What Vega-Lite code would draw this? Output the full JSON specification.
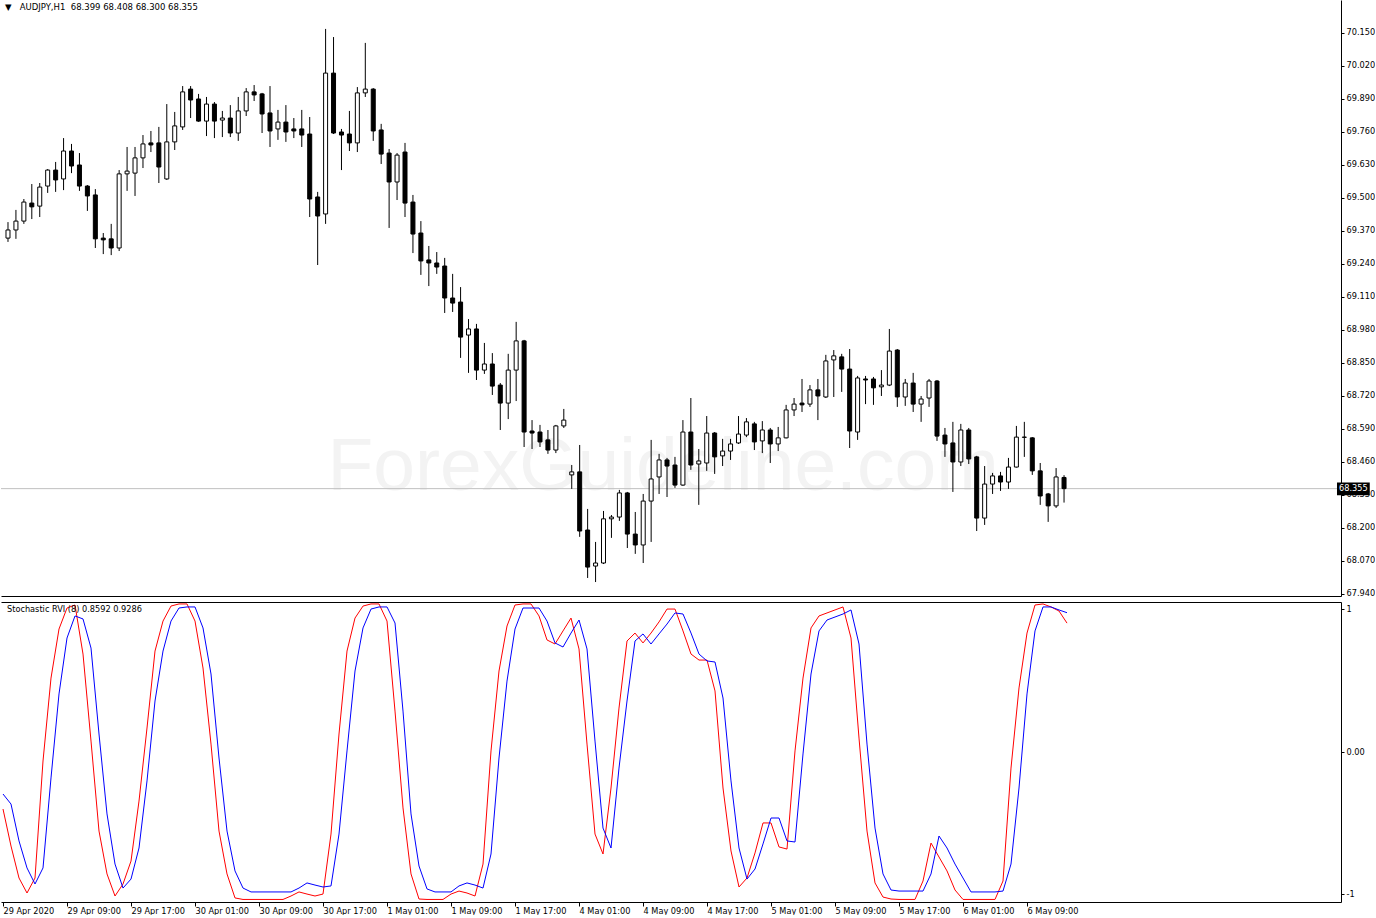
{
  "$schema": "https://vega.github.io/schema/vega-lite/v6.json",
  "background": "white",
  "padding": {"left": 0, "top": 0, "right": 0, "bottom": 0},
  "spacing": 3,
  "config": {
    "view": {"stroke": null},
    "font": "DejaVu Sans",
    "axis": {"labelFont": "DejaVu Sans", "labelFontSize": 8.2, "labelColor": "black", "domainColor": "black", "tickColor": "black", "grid": false, "labelOverlap": false}
  },
  "datasets": {
    "bars": [
      {"i":0,"open":69.342,"high":69.405,"low":69.327,"close":69.374},
      {"i":1,"open":69.374,"high":69.453,"low":69.339,"close":69.409},
      {"i":2,"open":69.409,"high":69.496,"low":69.398,"close":69.484},
      {"i":3,"open":69.480,"high":69.555,"low":69.417,"close":69.465},
      {"i":4,"open":69.468,"high":69.559,"low":69.425,"close":69.543},
      {"i":5,"open":69.547,"high":69.614,"low":69.520,"close":69.610},
      {"i":6,"open":69.610,"high":69.642,"low":69.524,"close":69.571},
      {"i":7,"open":69.575,"high":69.736,"low":69.531,"close":69.685},
      {"i":8,"open":69.685,"high":69.713,"low":69.598,"close":69.626},
      {"i":9,"open":69.630,"high":69.677,"low":69.528,"close":69.547},
      {"i":10,"open":69.547,"high":69.551,"low":69.449,"close":69.508},
      {"i":11,"open":69.512,"high":69.535,"low":69.303,"close":69.339},
      {"i":12,"open":69.342,"high":69.362,"low":69.279,"close":69.335},
      {"i":13,"open":69.339,"high":69.398,"low":69.275,"close":69.303},
      {"i":14,"open":69.303,"high":69.610,"low":69.291,"close":69.595},
      {"i":15,"open":69.595,"high":69.701,"low":69.528,"close":69.606},
      {"i":16,"open":69.598,"high":69.701,"low":69.508,"close":69.658},
      {"i":17,"open":69.658,"high":69.748,"low":69.618,"close":69.713},
      {"i":18,"open":69.717,"high":69.764,"low":69.681,"close":69.709},
      {"i":19,"open":69.717,"high":69.780,"low":69.559,"close":69.622},
      {"i":20,"open":69.575,"high":69.870,"low":69.571,"close":69.721},
      {"i":21,"open":69.721,"high":69.839,"low":69.689,"close":69.784},
      {"i":22,"open":69.780,"high":69.941,"low":69.768,"close":69.918},
      {"i":23,"open":69.929,"high":69.941,"low":69.815,"close":69.886},
      {"i":24,"open":69.890,"high":69.910,"low":69.800,"close":69.803},
      {"i":25,"open":69.803,"high":69.898,"low":69.744,"close":69.870},
      {"i":26,"open":69.870,"high":69.878,"low":69.736,"close":69.803},
      {"i":27,"open":69.807,"high":69.843,"low":69.740,"close":69.815},
      {"i":28,"open":69.815,"high":69.866,"low":69.740,"close":69.756},
      {"i":29,"open":69.756,"high":69.898,"low":69.725,"close":69.843},
      {"i":30,"open":69.843,"high":69.933,"low":69.823,"close":69.918},
      {"i":31,"open":69.918,"high":69.945,"low":69.882,"close":69.906},
      {"i":32,"open":69.910,"high":69.914,"low":69.756,"close":69.831},
      {"i":33,"open":69.835,"high":69.941,"low":69.701,"close":69.764},
      {"i":34,"open":69.772,"high":69.847,"low":69.729,"close":69.799},
      {"i":35,"open":69.799,"high":69.866,"low":69.721,"close":69.760},
      {"i":36,"open":69.772,"high":69.815,"low":69.736,"close":69.764},
      {"i":37,"open":69.772,"high":69.847,"low":69.701,"close":69.748},
      {"i":38,"open":69.752,"high":69.819,"low":69.425,"close":69.496},
      {"i":39,"open":69.504,"high":69.524,"low":69.236,"close":69.429},
      {"i":40,"open":69.437,"high":70.166,"low":69.398,"close":69.992},
      {"i":41,"open":69.992,"high":70.134,"low":69.752,"close":69.756},
      {"i":42,"open":69.760,"high":69.772,"low":69.610,"close":69.748},
      {"i":43,"open":69.752,"high":69.843,"low":69.685,"close":69.717},
      {"i":44,"open":69.717,"high":69.937,"low":69.681,"close":69.914},
      {"i":45,"open":69.914,"high":70.111,"low":69.898,"close":69.929},
      {"i":46,"open":69.929,"high":69.933,"low":69.725,"close":69.764},
      {"i":47,"open":69.768,"high":69.792,"low":69.634,"close":69.673},
      {"i":48,"open":69.677,"high":69.693,"low":69.382,"close":69.563},
      {"i":49,"open":69.563,"high":69.677,"low":69.492,"close":69.669},
      {"i":50,"open":69.681,"high":69.717,"low":69.425,"close":69.480},
      {"i":51,"open":69.484,"high":69.512,"low":69.283,"close":69.358},
      {"i":52,"open":69.362,"high":69.409,"low":69.197,"close":69.252},
      {"i":53,"open":69.256,"high":69.311,"low":69.153,"close":69.244},
      {"i":54,"open":69.244,"high":69.287,"low":69.201,"close":69.228},
      {"i":55,"open":69.232,"high":69.264,"low":69.047,"close":69.106},
      {"i":56,"open":69.106,"high":69.201,"low":69.051,"close":69.086},
      {"i":57,"open":69.090,"high":69.149,"low":68.870,"close":68.952},
      {"i":58,"open":68.960,"high":69.023,"low":68.811,"close":68.984},
      {"i":59,"open":68.984,"high":69.004,"low":68.783,"close":68.822},
      {"i":60,"open":68.822,"high":68.929,"low":68.807,"close":68.846},
      {"i":61,"open":68.846,"high":68.889,"low":68.724,"close":68.759},
      {"i":62,"open":68.763,"high":68.771,"low":68.586,"close":68.692},
      {"i":63,"open":68.692,"high":68.886,"low":68.629,"close":68.822},
      {"i":64,"open":68.822,"high":69.012,"low":68.700,"close":68.937},
      {"i":65,"open":68.937,"high":68.941,"low":68.519,"close":68.578},
      {"i":66,"open":68.582,"high":68.625,"low":68.511,"close":68.574},
      {"i":67,"open":68.578,"high":68.606,"low":68.519,"close":68.539},
      {"i":68,"open":68.547,"high":68.586,"low":68.492,"close":68.507},
      {"i":69,"open":68.507,"high":68.606,"low":68.495,"close":68.602},
      {"i":70,"open":68.602,"high":68.669,"low":68.594,"close":68.625},
      {"i":71,"open":68.409,"high":68.448,"low":68.354,"close":68.421},
      {"i":72,"open":68.421,"high":68.527,"low":68.165,"close":68.188},
      {"i":73,"open":68.192,"high":68.275,"low":68.003,"close":68.046},
      {"i":74,"open":68.050,"high":68.145,"low":67.987,"close":68.062},
      {"i":75,"open":68.062,"high":68.267,"low":68.058,"close":68.236},
      {"i":76,"open":68.236,"high":68.251,"low":68.161,"close":68.243},
      {"i":77,"open":68.243,"high":68.350,"low":68.228,"close":68.338},
      {"i":78,"open":68.338,"high":68.342,"low":68.121,"close":68.176},
      {"i":79,"open":68.176,"high":68.263,"low":68.098,"close":68.133},
      {"i":80,"open":68.133,"high":68.334,"low":68.062,"close":68.306},
      {"i":81,"open":68.306,"high":68.547,"low":68.145,"close":68.393},
      {"i":82,"open":68.401,"high":68.492,"low":68.334,"close":68.468},
      {"i":83,"open":68.468,"high":68.476,"low":68.322,"close":68.444},
      {"i":84,"open":68.448,"high":68.480,"low":68.358,"close":68.369},
      {"i":85,"open":68.369,"high":68.625,"low":68.366,"close":68.578},
      {"i":86,"open":68.578,"high":68.712,"low":68.429,"close":68.448},
      {"i":87,"open":68.452,"high":68.511,"low":68.291,"close":68.464},
      {"i":88,"open":68.456,"high":68.641,"low":68.425,"close":68.574},
      {"i":89,"open":68.574,"high":68.578,"low":68.413,"close":68.480},
      {"i":90,"open":68.484,"high":68.551,"low":68.444,"close":68.503},
      {"i":91,"open":68.503,"high":68.551,"low":68.468,"close":68.531},
      {"i":92,"open":68.535,"high":68.641,"low":68.531,"close":68.570},
      {"i":93,"open":68.566,"high":68.633,"low":68.558,"close":68.618},
      {"i":94,"open":68.610,"high":68.618,"low":68.507,"close":68.539},
      {"i":95,"open":68.543,"high":68.621,"low":68.495,"close":68.586},
      {"i":96,"open":68.586,"high":68.594,"low":68.456,"close":68.531},
      {"i":97,"open":68.531,"high":68.598,"low":68.503,"close":68.555},
      {"i":98,"open":68.555,"high":68.685,"low":68.553,"close":68.665},
      {"i":99,"open":68.665,"high":68.712,"low":68.641,"close":68.688},
      {"i":100,"open":68.692,"high":68.787,"low":68.657,"close":68.685},
      {"i":101,"open":68.688,"high":68.763,"low":68.677,"close":68.744},
      {"i":102,"open":68.744,"high":68.787,"low":68.625,"close":68.720},
      {"i":103,"open":68.716,"high":68.882,"low":68.712,"close":68.858},
      {"i":104,"open":68.862,"high":68.901,"low":68.716,"close":68.878},
      {"i":105,"open":68.874,"high":68.886,"low":68.736,"close":68.826},
      {"i":106,"open":68.826,"high":68.905,"low":68.515,"close":68.582},
      {"i":107,"open":68.578,"high":68.799,"low":68.547,"close":68.791},
      {"i":108,"open":68.787,"high":68.799,"low":68.688,"close":68.783},
      {"i":109,"open":68.787,"high":68.795,"low":68.685,"close":68.752},
      {"i":110,"open":68.756,"high":68.822,"low":68.720,"close":68.763},
      {"i":111,"open":68.763,"high":68.984,"low":68.759,"close":68.897},
      {"i":112,"open":68.901,"high":68.905,"low":68.677,"close":68.716},
      {"i":113,"open":68.716,"high":68.787,"low":68.681,"close":68.771},
      {"i":114,"open":68.771,"high":68.811,"low":68.657,"close":68.688},
      {"i":115,"open":68.688,"high":68.720,"low":68.618,"close":68.708},
      {"i":116,"open":68.712,"high":68.787,"low":68.677,"close":68.779},
      {"i":117,"open":68.779,"high":68.783,"low":68.543,"close":68.562},
      {"i":118,"open":68.566,"high":68.594,"low":68.480,"close":68.531},
      {"i":119,"open":68.535,"high":68.618,"low":68.342,"close":68.460},
      {"i":120,"open":68.460,"high":68.610,"low":68.444,"close":68.586},
      {"i":121,"open":68.586,"high":68.594,"low":68.452,"close":68.472},
      {"i":122,"open":68.480,"high":68.484,"low":68.188,"close":68.239},
      {"i":123,"open":68.239,"high":68.444,"low":68.212,"close":68.373},
      {"i":124,"open":68.373,"high":68.417,"low":68.334,"close":68.405},
      {"i":125,"open":68.405,"high":68.421,"low":68.346,"close":68.381},
      {"i":126,"open":68.381,"high":68.476,"low":68.354,"close":68.440},
      {"i":127,"open":68.440,"high":68.602,"low":68.438,"close":68.558},
      {"i":128,"open":68.557,"high":68.618,"low":68.480,"close":68.558},
      {"i":129,"open":68.555,"high":68.558,"low":68.409,"close":68.425},
      {"i":130,"open":68.425,"high":68.456,"low":68.291,"close":68.326},
      {"i":131,"open":68.334,"high":68.338,"low":68.224,"close":68.287},
      {"i":132,"open":68.287,"high":68.436,"low":68.279,"close":68.401},
      {"i":133,"open":68.399,"high":68.408,"low":68.300,"close":68.355}
    ],
    "stoch": [
      {"i":0,"main":-0.380,"signal":-0.280},{"i":1,"main":-0.627,"signal":-0.347},{"i":2,"main":-0.840,"signal":-0.593},{"i":3,"main":-0.940,"signal":-0.773},{"i":4,"main":-0.840,"signal":-0.880},
      {"i":5,"main":-0.060,"signal":-0.773},{"i":6,"main":0.493,"signal":-0.173},{"i":7,"main":0.820,"signal":0.387},{"i":8,"main":0.960,"signal":0.760},{"i":9,"main":0.980,"signal":0.907},
      {"i":10,"main":0.653,"signal":0.887},{"i":11,"main":0.073,"signal":0.693},{"i":12,"main":-0.527,"signal":0.120},{"i":13,"main":-0.813,"signal":-0.413},{"i":14,"main":-0.960,"signal":-0.747},
      {"i":15,"main":-0.880,"signal":-0.907},{"i":16,"main":-0.727,"signal":-0.847},{"i":17,"main":-0.327,"signal":-0.640},{"i":18,"main":0.160,"signal":-0.193},{"i":19,"main":0.673,"signal":0.340},
      {"i":20,"main":0.873,"signal":0.673},{"i":21,"main":0.973,"signal":0.873},{"i":22,"main":0.987,"signal":0.960},{"i":23,"main":0.987,"signal":0.967},{"i":24,"main":0.873,"signal":0.967},
      {"i":25,"main":0.560,"signal":0.827},{"i":26,"main":0.053,"signal":0.520},{"i":27,"main":-0.527,"signal":-0.040},{"i":28,"main":-0.813,"signal":-0.527},{"i":29,"main":-0.973,"signal":-0.793},
      {"i":30,"main":-0.983,"signal":-0.907},{"i":31,"main":-0.983,"signal":-0.933},{"i":32,"main":-0.983,"signal":-0.933},{"i":33,"main":-0.983,"signal":-0.933},{"i":34,"main":-0.983,"signal":-0.933},
      {"i":35,"main":-0.983,"signal":-0.933},{"i":36,"main":-0.960,"signal":-0.933},{"i":37,"main":-0.933,"signal":-0.907},{"i":38,"main":-0.947,"signal":-0.873},{"i":39,"main":-0.960,"signal":-0.887},
      {"i":40,"main":-0.947,"signal":-0.900},{"i":41,"main":-0.547,"signal":-0.893},{"i":42,"main":0.120,"signal":-0.547},{"i":43,"main":0.673,"signal":0.007},{"i":44,"main":0.893,"signal":0.540},
      {"i":45,"main":0.973,"signal":0.827},{"i":46,"main":0.987,"signal":0.953},{"i":47,"main":0.987,"signal":0.967},{"i":48,"main":0.873,"signal":0.967},{"i":49,"main":0.273,"signal":0.860},
      {"i":50,"main":-0.373,"signal":0.273},{"i":51,"main":-0.813,"signal":-0.413},{"i":52,"main":-0.980,"signal":-0.760},{"i":53,"main":-0.983,"signal":-0.913},{"i":54,"main":-0.983,"signal":-0.933},
      {"i":55,"main":-0.983,"signal":-0.933},{"i":56,"main":-0.947,"signal":-0.933},{"i":57,"main":-0.927,"signal":-0.893},{"i":58,"main":-0.940,"signal":-0.873},{"i":59,"main":-0.960,"signal":-0.887},
      {"i":60,"main":-0.747,"signal":-0.907},{"i":61,"main":0.007,"signal":-0.680},{"i":62,"main":0.540,"signal":-0.040},{"i":63,"main":0.840,"signal":0.473},{"i":64,"main":0.980,"signal":0.820},
      {"i":65,"main":0.987,"signal":0.960},{"i":66,"main":0.987,"signal":0.960},{"i":67,"main":0.907,"signal":0.960},{"i":68,"main":0.747,"signal":0.873},{"i":69,"main":0.720,"signal":0.727},
      {"i":70,"main":0.807,"signal":0.700},{"i":71,"main":0.893,"signal":0.793},{"i":72,"main":0.687,"signal":0.880},{"i":73,"main":0.053,"signal":0.687},{"i":74,"main":-0.547,"signal":0.073},
      {"i":75,"main":-0.680,"signal":-0.507},{"i":76,"main":-0.240,"signal":-0.640},{"i":77,"main":0.293,"signal":-0.107},{"i":78,"main":0.740,"signal":0.340},{"i":79,"main":0.793,"signal":0.740},
      {"i":80,"main":0.727,"signal":0.787},{"i":81,"main":0.793,"signal":0.720},{"i":82,"main":0.867,"signal":0.787},{"i":83,"main":0.953,"signal":0.853},{"i":84,"main":0.953,"signal":0.927},
      {"i":85,"main":0.807,"signal":0.920},{"i":86,"main":0.653,"signal":0.793},{"i":87,"main":0.613,"signal":0.653},{"i":88,"main":0.613,"signal":0.607},{"i":89,"main":0.407,"signal":0.600},
      {"i":90,"main":-0.240,"signal":0.360},{"i":91,"main":-0.660,"signal":-0.193},{"i":92,"main":-0.900,"signal":-0.640},{"i":93,"main":-0.840,"signal":-0.847},{"i":94,"main":-0.673,"signal":-0.780},
      {"i":95,"main":-0.473,"signal":-0.613},{"i":96,"main":-0.473,"signal":-0.440},{"i":97,"main":-0.633,"signal":-0.440},{"i":98,"main":-0.647,"signal":-0.593},{"i":99,"main":0.007,"signal":-0.600},
      {"i":100,"main":0.493,"signal":-0.013},{"i":101,"main":0.827,"signal":0.520},{"i":102,"main":0.907,"signal":0.807},{"i":103,"main":0.927,"signal":0.880},{"i":104,"main":0.947,"signal":0.900},
      {"i":105,"main":0.967,"signal":0.920},{"i":106,"main":0.760,"signal":0.947},{"i":107,"main":0.093,"signal":0.720},{"i":108,"main":-0.527,"signal":0.053},{"i":109,"main":-0.873,"signal":-0.507},
      {"i":110,"main":-0.967,"signal":-0.813},{"i":111,"main":-0.980,"signal":-0.920},{"i":112,"main":-0.983,"signal":-0.927},{"i":113,"main":-0.983,"signal":-0.927},{"i":114,"main":-0.983,"signal":-0.927},
      {"i":115,"main":-0.860,"signal":-0.927},{"i":116,"main":-0.607,"signal":-0.813},{"i":117,"main":-0.700,"signal":-0.560},{"i":118,"main":-0.793,"signal":-0.640},{"i":119,"main":-0.920,"signal":-0.747},
      {"i":120,"main":-0.983,"signal":-0.840},{"i":121,"main":-0.983,"signal":-0.933},{"i":122,"main":-0.983,"signal":-0.933},{"i":123,"main":-0.983,"signal":-0.933},{"i":124,"main":-0.983,"signal":-0.933},
      {"i":125,"main":-0.860,"signal":-0.927},{"i":126,"main":-0.107,"signal":-0.747},{"i":127,"main":0.427,"signal":-0.240},{"i":128,"main":0.793,"signal":0.387},{"i":129,"main":0.980,"signal":0.807},
      {"i":130,"main":0.987,"signal":0.967},{"i":131,"main":0.967,"signal":0.967},{"i":132,"main":0.940,"signal":0.947},{"i":133,"main":0.8592,"signal":0.9286}
    ]
  },
  "vconcat": [
    {
      "width": 1340,
      "height": 596,
      "title": {"text": "▼\u00a0\u00a0\u00a0AUDJPY,H1\u00a0\u00a068.399 68.408 68.300 68.355", "anchor": "start", "frame": "group", "offset": -11, "dx": 4, "font": "DejaVu Sans", "fontSize": 8.5, "fontWeight": "normal", "color": "black"},
      "data": {"name": "bars"},
      "layer": [
        {
          "data": {"values": [{}]},
          "mark": {"type": "text", "font": "Liberation Sans", "fontSize": 75, "color": "#f3f3f3", "align": "center", "baseline": "alphabetic"},
          "encoding": {
            "x": {"datum": 82.5, "type": "quantitative", "scale": {"domain": [-0.25, 167.25], "nice": false, "zero": false}},
            "y": {"datum": 68.35, "type": "quantitative", "scale": {"domain": [67.932, 70.28], "nice": false, "zero": false}},
            "text": {"value": "ForexGuideline.com"}
          }
        },
        {
          "data": {"values": [{}]},
          "mark": {"type": "rule", "color": "#c0c0c0", "strokeWidth": 1},
          "encoding": {"y": {"datum": 68.355, "type": "quantitative"}}
        },
        {
          "mark": {"type": "rule", "color": "black", "strokeWidth": 1},
          "encoding": {
            "x": {"field": "i", "type": "quantitative", "axis": {"orient": "bottom", "labels": false, "ticks": false, "domain": true, "title": null}},
            "y": {"field": "low", "type": "quantitative", "axis": {"orient": "right", "title": null, "values": [67.94, 68.07, 68.2, 68.33, 68.46, 68.59, 68.72, 68.85, 68.98, 69.11, 69.24, 69.37, 69.5, 69.63, 69.76, 69.89, 70.02, 70.15], "tickCount": 60, "format": ".3f", "tickSize": 3, "labelPadding": 2, "labelOverlap": false}},
            "y2": {"field": "high"}
          }
        },
        {
          "mark": {"type": "bar", "size": 4, "stroke": "black", "strokeWidth": 1},
          "encoding": {
            "x": {"field": "i", "type": "quantitative"},
            "y": {"field": "open", "type": "quantitative"},
            "y2": {"field": "close"},
            "fill": {"condition": {"test": "datum.close > datum.open", "value": "white"}, "value": "black"}
          }
        },
        {
          "data": {"values": [{}]},
          "mark": {"type": "rect", "color": "black"},
          "encoding": {
            "x": {"datum": 167.375, "type": "quantitative"}, "x2": {"datum": 171.5},
            "y": {"datum": 68.379, "type": "quantitative"}, "y2": {"datum": 68.329}
          }
        },
        {
          "data": {"values": [{}]},
          "mark": {"type": "text", "color": "white", "font": "DejaVu Sans", "fontSize": 8.2, "align": "left", "baseline": "middle", "dx": 2},
          "encoding": {
            "x": {"datum": 167.375, "type": "quantitative"},
            "y": {"datum": 68.355, "type": "quantitative"},
            "text": {"value": "68.355"}
          }
        }
      ]
    },
    {
      "width": 1340,
      "height": 300,
      "title": {"text": "Stochastic RVI (8) 0.8592 0.9286", "anchor": "start", "frame": "group", "offset": -12, "dx": 6, "font": "DejaVu Sans", "fontSize": 8.2, "fontWeight": "normal", "color": "black"},
      "data": {"name": "stoch"},
      "resolve": {"axis": {"x": "independent"}},
      "layer": [
        {
          "mark": {"type": "line", "color": "#ff0000", "strokeWidth": 1},
          "encoding": {
            "x": {"field": "i", "type": "quantitative", "scale": {"domain": [-0.25, 167.25], "nice": false, "zero": false},
                  "axis": {"orient": "bottom", "title": null, "values": [0, 8, 16, 24, 32, 40, 48, 56, 64, 72, 80, 88, 96, 104, 112, 120, 128], "tickCount": 60, "labelExpr": "['29 Apr 2020','29 Apr 09:00','29 Apr 17:00','30 Apr 01:00','30 Apr 09:00','30 Apr 17:00','1 May 01:00','1 May 09:00','1 May 17:00','4 May 01:00','4 May 09:00','4 May 17:00','5 May 01:00','5 May 09:00','5 May 17:00','6 May 01:00','6 May 09:00'][round(datum.value / 8)]", "labelAlign": "left", "labelOffset": 0, "tickSize": 4, "labelPadding": 1, "labelFlush": false, "labelOverlap": false}},
            "y": {"field": "main", "type": "quantitative", "scale": {"domain": [-1, 1], "nice": false, "zero": false},
                  "axis": {"orient": "right", "title": null, "values": [0.953, 0, -0.947], "labelExpr": "datum.value > 0.5 ? '1' : (datum.value < -0.5 ? '-1' : '0.00')", "tickSize": 3, "labelPadding": 2}}
          }
        },
        {
          "mark": {"type": "line", "color": "#0000ff", "strokeWidth": 1},
          "encoding": {
            "x": {"field": "i", "type": "quantitative", "axis": {"orient": "top", "title": null, "labels": false, "ticks": false, "domain": true}},
            "y": {"field": "signal", "type": "quantitative"}
          }
        }
      ]
    }
  ]
}
